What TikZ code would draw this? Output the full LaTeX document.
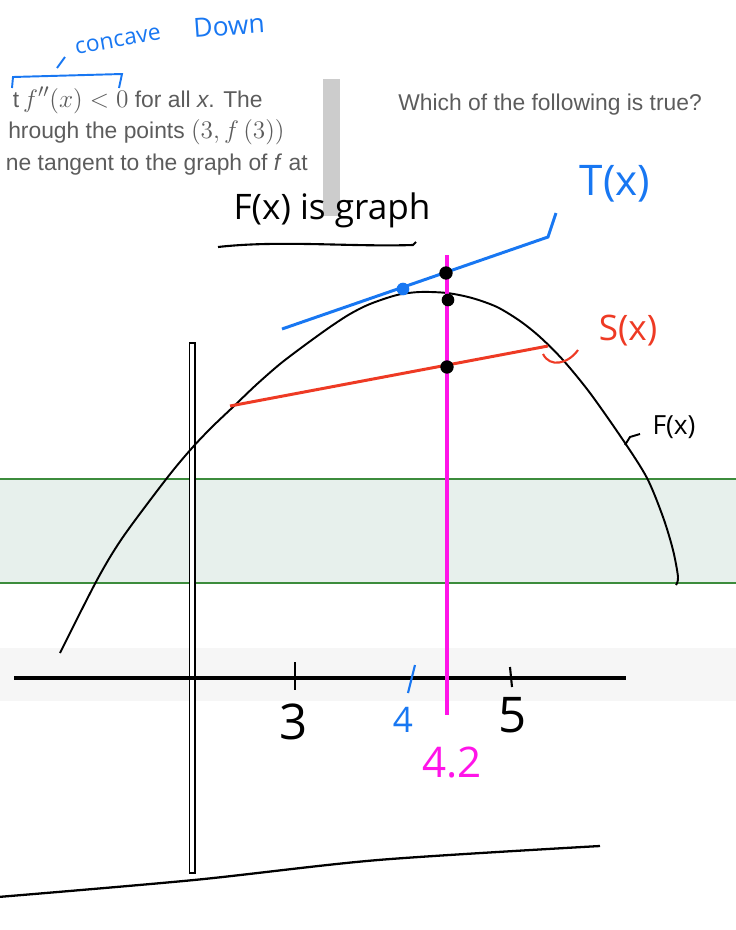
\documentclass[tikz,border=0pt]{standalone}
\usepackage{amsmath}
\usepackage{fontspec}
\setmainfont{Liberation Sans}
\newfontfamily\handfont{Open Sans}
\usepackage{tikz}
\usetikzlibrary{positioning}
\definecolor{inkblue}{HTML}{1877F2}
\definecolor{inkred}{HTML}{EE3A24}
\definecolor{inkpink}{HTML}{FF14E8}
\definecolor{qgray}{HTML}{5C5C5C}
\definecolor{barfill}{HTML}{CCCCCC}
\definecolor{bandfill}{HTML}{E7F0EC}
\definecolor{bandline}{HTML}{3C8C3C}
\definecolor{stripfill}{HTML}{F6F6F6}
\newcommand{\qmath}[1]{{\fontsize{15.5}{16}\selectfont$#1$}}

\begin{document}
\begin{tikzpicture}[x=0.02cm,y=-0.02cm,
    qtext/.style={text=qgray,font=\fontsize{13}{15}\selectfont,inner sep=0pt},
    hand/.style={inner sep=0pt,font=\handfont\fontsize{#1}{#1}\selectfont},
    hand/.default=20,
    dot/.style={fill=black}]
    \useasboundingbox (0,0) rectangle (736,930);
    % page background
    \fill[stripfill] (0,648) rectangle (736,701);
    \fill[bandfill] (0,479) rectangle (736,583);
    \draw[bandline,line width=0.6pt] (0,479) -- (736,479) (0,583) -- (736,583);
    \fill[barfill] (323,79) rectangle (340,216);
    \node[qtext,anchor=base east] (q1) at (263,107) {t\,\qmath{f''(x)<0} for all \textit{x}. The};
    \node[qtext,anchor=base east] (q2) at (285,138) {hrough the points \qmath{(3,f\left(3\right))}};
    \node[qtext,anchor=base east] (q3) at (308,170) {ne tangent to the graph of \textit{f} at};
    \node[qtext,anchor=base west] (q4) at (398,110) {Which of the following is true?};
    % notes
    \draw[inkblue,line width=1.1pt] (12,88) -- (13,77) -- (122,74) -- (119,88);
    \draw[inkblue,line width=1.1pt] (57,68) -- (65,57);
    \node[hand=13,text=inkblue,rotate=10] (cc) at (118,41) {concave};
    \node[hand=15,text=inkblue,rotate=4] (dn) at (229,26) {Down};
    \node[hand=20] (fg) at (332,210) {F(x) is graph};
    \draw[line width=1.2pt] (218,247) .. controls (280,240) and (350,247) .. (413,245) -- (416,242);
    % axes
    \draw[line width=0.8pt,fill=white] (189.5,343) rectangle (195,873);
    \draw[line width=2.2pt] (14,678) -- (626,678);
    \draw[line width=1.2pt] (295,662) -- (295,690);
    \draw[inkblue,line width=1.2pt] (415,665) -- (408,693);
    \draw[line width=1.2pt] (510,667) -- (512,687);
    \node[hand=28] (n3) at (294,722) {3};
    \node[hand=20,text=inkblue] (n4) at (403,720) {4};
    \node[hand=28] (n5) at (513,715) {5};
    \draw[line width=1.3pt] plot[smooth] coordinates {(-2,897) (194,880) (378,860) (600,846)};
    % f(x)
    \draw[line width=1.1pt] plot[smooth] coordinates {(60,653) (97,580) (123,537) (167,478) (192,448) (212,427) (233,407) (256,385) (280,364) (305,345) (330,327) (350,314) (370,304) (397,295) (420,292) (447,293) (472,298) (497,307) (520,321) (540,337) (563,360) (590,393) (623,440) (647,478) (663,517) (673,550) (678,577) (676,585)};
    \draw[line width=1.1pt] (625,445) -- (630,437) -- (640,434);
    \node[hand=15] (lblF) at (674,427) {F(x)};
    % x = 4.2
    \draw[inkpink,line width=2.3pt] (447,255) -- (447,715);
    \node[hand=24,text=inkpink] (n42) at (452,763) {4.2};
    % tangent T(x)
    \coordinate (tA) at (282,329);
    \coordinate (tB) at (548,237);
    \coordinate (tP) at (403,289);
    \draw[inkblue,line width=1.7pt] (tA) -- (tB) -- ++(8,-24);
    \fill[inkblue] (tP) circle[radius=3.6pt];
    \node[hand=24,text=inkblue] (lblT) at (615,184) {T(x)};
    % secant S(x)
    \coordinate (sA) at (230,406);
    \coordinate (sB) at (548,346);
    \draw[inkred,line width=1.7pt] (sA) -- (sB);
    \draw[inkred,line width=1.2pt] (543,354) .. controls (550,368) and (568,364) .. (578,350);
    \node[hand=20,text=inkred] (lblS) at (628,331) {S(x)};
    % values at 4.2
    \fill[dot] (446,273) circle[radius=3.8pt];
    \fill[dot] (448,300) circle[radius=3.6pt];
    \fill[dot] (447,367) circle[radius=3.8pt];
\end{tikzpicture}
\end{document}
